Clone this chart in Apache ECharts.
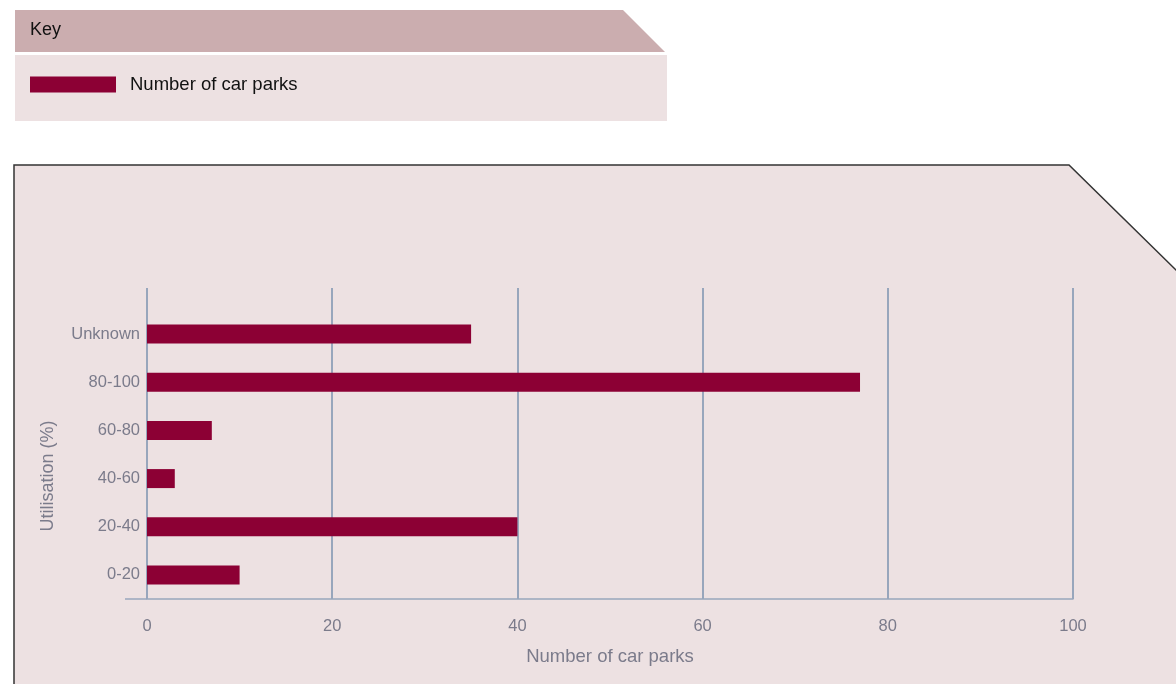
<!DOCTYPE html>
<html><head><meta charset="utf-8">
<script src="https://cdn.jsdelivr.net/npm/echarts@6/dist/echarts.min.js"></script>
<style>html,body{margin:0;padding:0;background:#fff}#c{width:1176px;height:684px}</style>
</head><body><div id="c"></div>
<script>
const categories = ['0-20', '20-40', '40-60', '60-80', '80-100', 'Unknown'];
const carParks = [10, 40, 3, 7, 77, 35];
const xTicks = [0, 20, 40, 60, 80, 100];
const seriesName = 'Number of car parks';
const xAxisTitle = 'Number of car parks';
const yAxisTitle = 'Utilisation (%)';

const BAR = '#8c0034';
const PANEL = '#ede1e2';
const GRIDC = '#98a6bc';
const LABEL = '#7b7b8b';
const FONT = '"Liberation Sans", Arial, sans-serif';

const chart = echarts.init(document.getElementById('c'), null, {renderer: 'canvas'});
chart.setOption({
  animation: false,
  backgroundColor: '#ffffff',
  graphic: [
    {type: 'polygon', z: -10, shape: {points: [[15,10],[623,10],[665,52],[15,52]]}, style: {fill: '#cbadaf'}},
    {type: 'rect', z: -10, shape: {x: 15, y: 55, width: 652, height: 66}, style: {fill: PANEL}},
    {type: 'text', z: 5, x: 30, y: 30, style: {text: 'Key', fill: '#111', font: '18px ' + FONT, verticalAlign: 'middle'}},
    {type: 'polygon', z: -10, shape: {points: [[14,700],[14,165],[1069,165],[1180,274],[1180,700]]},
      style: {fill: PANEL, stroke: '#333', lineWidth: 1.5}},
    {type: 'line', z: 5, shape: {x1: 125, y1: 599, x2: 147, y2: 599}, style: {stroke: GRIDC, lineWidth: 1.5}},
    {type: 'text', z: 5, x: 48, y: 476, rotation: Math.PI / 2,
      style: {text: yAxisTitle, fill: LABEL, font: '18px ' + FONT, align: 'center', verticalAlign: 'middle'}}
  ],
  legend: {
    left: 30, top: 75, itemWidth: 86, itemHeight: 16, itemGap: 10, padding: 0,
    icon: 'rect', data: [seriesName],
    textStyle: {color: '#111', fontSize: 18.5, fontFamily: FONT, padding: [0, 0, 0, 9]}
  },
  grid: [
    {left: 147, right: 103, top: 288, bottom: 85, containLabel: false},
    {left: 147, right: 103, top: 310, bottom: 85, containLabel: false}
  ],
  xAxis: [
    {gridIndex: 0, type: 'value', min: 0, max: 100, interval: 20,
      name: xAxisTitle, nameLocation: 'middle', nameGap: 48,
      nameTextStyle: {color: LABEL, fontSize: 18.5, fontFamily: FONT},
      axisLine: {show: true, lineStyle: {color: GRIDC, width: 1.5}},
      axisTick: {show: false},
      axisLabel: {color: LABEL, fontSize: 16.5, fontFamily: FONT, margin: 19,
        formatter: v => xTicks.includes(v) ? String(v) : ''},
      splitLine: {show: true, lineStyle: {color: GRIDC, width: 2}}},
    {gridIndex: 1, type: 'value', min: 0, max: 100, interval: 20, show: false,
      splitLine: {show: false}}
  ],
  yAxis: [
    {gridIndex: 0, type: 'value', show: false, splitLine: {show: false}},
    {gridIndex: 1, type: 'category', data: categories,
      axisLine: {show: false}, axisTick: {show: false},
      axisLabel: {color: LABEL, fontSize: 16.5, fontFamily: FONT, margin: 7},
      splitLine: {show: false}}
  ],
  series: [{
    name: seriesName, type: 'bar', xAxisIndex: 1, yAxisIndex: 1,
    data: carParks, barWidth: 19,
    itemStyle: {color: BAR}
  }]
});
</script></body></html>
